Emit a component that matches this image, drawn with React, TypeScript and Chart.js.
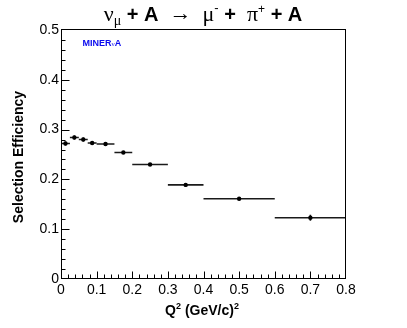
import React, { useEffect, useRef } from "react";
import { Chart, registerables } from "chart.js";

Chart.register(...registerables);

// Q^2 bins (GeV/c)^2
const binLow = [0, 0.025, 0.05, 0.075, 0.1, 0.15, 0.2, 0.3, 0.4, 0.6];
const binHigh = [0.025, 0.05, 0.075, 0.1, 0.15, 0.2, 0.3, 0.4, 0.6, 0.8];
// Selection efficiency and its error
const efficiency = [0.272, 0.284, 0.28, 0.273, 0.271, 0.254, 0.23, 0.189, 0.161, 0.123];
const effError = [0.004, 0.004, 0.004, 0.004, 0.003, 0.003, 0.003, 0.003, 0.003, 0.006];
// Axis ticks
const xTicks = [0, 0.1, 0.2, 0.3, 0.4, 0.5, 0.6, 0.7, 0.8];
const yTicks = [0, 0.1, 0.2, 0.3, 0.4, 0.5];
const minorStep = 0.02;

const SANS = '"Liberation Sans", Arial, Helvetica, sans-serif';
const SERIF = '"Liberation Serif", "Times New Roman", serif';

const fmt = (v: number) => (Math.abs(v) < 1e-9 ? "0" : (Math.round(v * 10) / 10).toString());

type Seg = { t: string; font: string; dy: number; color?: string };

function drawSegs(ctx: CanvasRenderingContext2D, segs: Seg[], cx: number, baseY: number, color = "#000") {
  let total = 0;
  const widths = segs.map((s) => {
    ctx.font = s.font;
    const w = ctx.measureText(s.t).width;
    total += w;
    return w;
  });
  let x = cx - total / 2;
  ctx.textAlign = "left";
  ctx.textBaseline = "alphabetic";
  segs.forEach((s, i) => {
    ctx.font = s.font;
    ctx.fillStyle = s.color || color;
    ctx.fillText(s.t, x, baseY + s.dy);
    x += widths[i];
  });
}

const decorPlugin = {
  id: "decor",
  beforeDatasetsDraw(chart: any) {
    const { ctx, scales } = chart;
    const xs = scales.x;
    const ys = scales.y;
    ctx.save();
    ctx.strokeStyle = "#1a1a1a";
    ctx.lineWidth = 1.6;
    for (let i = 0; i < efficiency.length; i++) {
      const y = ys.getPixelForValue(efficiency[i]);
      const xc = xs.getPixelForValue((binLow[i] + binHigh[i]) / 2);
      ctx.beginPath();
      ctx.moveTo(xs.getPixelForValue(binLow[i]), y);
      ctx.lineTo(xs.getPixelForValue(binHigh[i]), y);
      ctx.moveTo(xc, ys.getPixelForValue(efficiency[i] - effError[i]));
      ctx.lineTo(xc, ys.getPixelForValue(efficiency[i] + effError[i]));
      ctx.stroke();
    }
    ctx.restore();
  },
  afterDraw(chart: any) {
    const { ctx, chartArea, scales } = chart;
    const xs = scales.x;
    const ys = scales.y;
    const L = Math.round(chartArea.left) + 0.5;
    const R = Math.round(chartArea.right) - 0.5;
    const T = Math.round(chartArea.top) - 0.5;
    const B = Math.round(chartArea.bottom) - 0.5;
    ctx.save();
    // frame
    ctx.strokeStyle = "#000";
    ctx.lineWidth = 1;
    ctx.strokeRect(L, T, R - L, B - T);
    // x ticks (inward)
    ctx.beginPath();
    const nx = Math.round((xs.max - xs.min) / minorStep);
    for (let k = 1; k < nx; k++) {
      const v = xs.min + k * minorStep;
      const px = Math.round(xs.getPixelForValue(v)) + 0.5;
      const major = k % 5 === 0;
      ctx.moveTo(px, B);
      ctx.lineTo(px, B - (major ? 7 : 4));
    }
    const ny = Math.round((ys.max - ys.min) / minorStep);
    for (let k = 1; k < ny; k++) {
      const v = ys.min + k * minorStep;
      const py = Math.round(ys.getPixelForValue(v)) + 0.5;
      const major = k % 5 === 0;
      ctx.moveTo(L, py);
      ctx.lineTo(L + (major ? 8 : 4), py);
    }
    ctx.stroke();

    // Title
    drawSegs(
      ctx,
      [
        { t: "ν", font: `22px ${SERIF}`, dy: 0 },
        { t: "μ", font: `14px ${SERIF}`, dy: 4 },
        { t: " + A  ", font: `bold 20px ${SANS}`, dy: 0 },
        { t: "→", font: `22px ${SERIF}`, dy: -1 },
        { t: "  μ", font: `22px ${SERIF}`, dy: 0 },
        { t: "-", font: `13px ${SANS}`, dy: -9 },
        { t: " +  ", font: `bold 20px ${SANS}`, dy: 0 },
        { t: "π", font: `22px ${SERIF}`, dy: 0 },
        { t: "+", font: `12px ${SANS}`, dy: -8 },
        { t: " + A", font: `bold 20px ${SANS}`, dy: 0 },
      ],
      203,
      21
    );

    // MINERvA label
    const blue = "#0a0aee";
    ctx.font = `bold 9px ${SANS}`;
    ctx.fillStyle = blue;
    ctx.textAlign = "left";
    ctx.textBaseline = "alphabetic";
    let mx = 82.5;
    ctx.fillText("MINER", mx, 46);
    mx += ctx.measureText("MINER").width;
    ctx.font = `7px ${SERIF}`;
    ctx.fillText("ν", mx, 46);
    mx += ctx.measureText("ν").width;
    ctx.font = `bold 9px ${SANS}`;
    ctx.fillText("A", mx, 46);

    // X axis title
    drawSegs(
      ctx,
      [
        { t: "Q", font: `bold 14px ${SANS}`, dy: 0 },
        { t: "2", font: `bold 9px ${SANS}`, dy: -6 },
        { t: " (GeV/c)", font: `bold 14px ${SANS}`, dy: 0 },
        { t: "2", font: `bold 9px ${SANS}`, dy: -6 },
      ],
      202,
      315
    );

    // Y axis title
    ctx.save();
    ctx.translate(22.5, 157);
    ctx.rotate(-Math.PI / 2);
    ctx.font = `bold 14px ${SANS}`;
    ctx.fillStyle = "#000";
    ctx.textAlign = "center";
    ctx.textBaseline = "alphabetic";
    ctx.fillText("Selection Efficiency", 0, 0);
    ctx.restore();

    ctx.restore();
  },
};

export default function App() {
  const ref = useRef<HTMLCanvasElement>(null);

  useEffect(() => {
    document.body.style.margin = "0";
    const canvas = ref.current;
    if (!canvas) return;
    const points = efficiency.map((e, i) => ({ x: (binLow[i] + binHigh[i]) / 2, y: e }));
    const tickFont = { family: SANS, size: 14, weight: "normal" as const };
    const chart = new Chart(canvas, {
      type: "scatter",
      data: {
        datasets: [
          {
            data: points,
            pointRadius: 2.2,
            pointBackgroundColor: "#000",
            pointBorderWidth: 0,
            showLine: false,
          },
        ],
      },
      options: {
        animation: false,
        responsive: false,
        maintainAspectRatio: false,
        devicePixelRatio: 1,
        layout: { padding: { left: 0, top: 30, right: 61, bottom: 0 } },
        plugins: {
          legend: { display: false },
          tooltip: { enabled: false },
          title: { display: false },
        },
        scales: {
          x: {
            type: "linear",
            min: 0,
            max: 0.8,
            afterFit: (s: any) => {
              s.height = 49;
            },
            afterBuildTicks: (s: any) => {
              s.ticks = xTicks.map((v) => ({ value: v }));
            },
            ticks: {
              callback: (v: any) => fmt(Number(v)),
              font: tickFont,
              color: "#000",
              padding: 3,
              maxRotation: 0,
              autoSkip: false,
            },
            grid: { display: false, drawTicks: false },
            border: { display: false },
          },
          y: {
            type: "linear",
            min: 0,
            max: 0.5,
            afterFit: (s: any) => {
              s.width = 61;
            },
            afterBuildTicks: (s: any) => {
              s.ticks = yTicks.map((v) => ({ value: v }));
            },
            ticks: {
              callback: (v: any) => fmt(Number(v)),
              font: tickFont,
              color: "#000",
              padding: 2,
              autoSkip: false,
            },
            grid: { display: false, drawTicks: false },
            border: { display: false },
          },
        },
      },
      plugins: [decorPlugin],
    });
    return () => chart.destroy();
  }, []);

  return (
    <div style={{ position: "absolute", left: 0, top: 0, width: 407, height: 328, background: "#fff" }}>
      <canvas ref={ref} width={407} height={328} style={{ display: "block", width: 407, height: 328 }} />
    </div>
  );
}
